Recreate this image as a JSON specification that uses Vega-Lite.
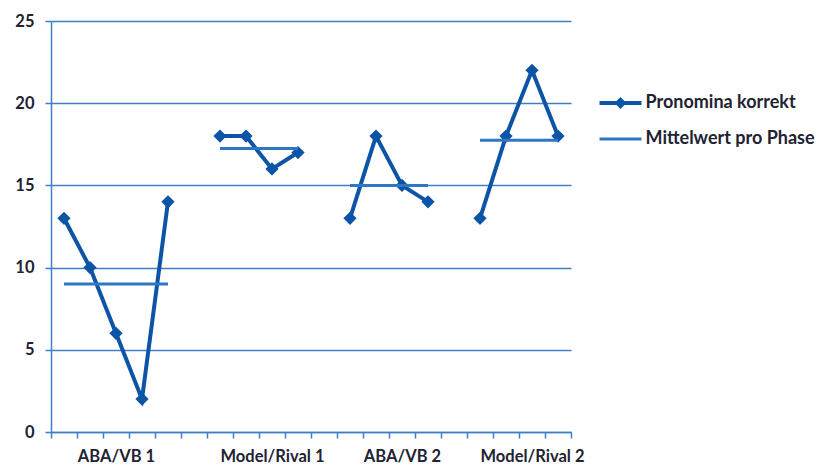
{
  "$schema": "https://vega.github.io/schema/vega-lite/v6.json",
  "autosize": {"type": "none"},
  "padding": {"left": 51, "top": 21, "right": 248, "bottom": 35},
  "width": 520,
  "height": 411,
  "background": "white",
  "config": {
    "view": {"stroke": null},
    "font": "Lato",
    "axis": {
      "labelFont": "Lato",
      "labelFontSize": 16.5,
      "labelFontWeight": "bold",
      "labelColor": "#222233",
      "domainColor": "#3f7fc6",
      "domainWidth": 1.5,
      "tickColor": "#3f7fc6",
      "tickWidth": 1.5,
      "tickSize": 6,
      "gridColor": "#3f7fc6",
      "gridWidth": 1.5,
      "title": null
    }
  },
  "datasets": {
    "pronomina": [
      {"slot": 1, "value": 13, "phase": "ABA/VB 1", "series": "Pronomina korrekt"},
      {"slot": 2, "value": 10, "phase": "ABA/VB 1", "series": "Pronomina korrekt"},
      {"slot": 3, "value": 6, "phase": "ABA/VB 1", "series": "Pronomina korrekt"},
      {"slot": 4, "value": 2, "phase": "ABA/VB 1", "series": "Pronomina korrekt"},
      {"slot": 5, "value": 14, "phase": "ABA/VB 1", "series": "Pronomina korrekt"},
      {"slot": 7, "value": 18, "phase": "Model/Rival 1", "series": "Pronomina korrekt"},
      {"slot": 8, "value": 18, "phase": "Model/Rival 1", "series": "Pronomina korrekt"},
      {"slot": 9, "value": 16, "phase": "Model/Rival 1", "series": "Pronomina korrekt"},
      {"slot": 10, "value": 17, "phase": "Model/Rival 1", "series": "Pronomina korrekt"},
      {"slot": 12, "value": 13, "phase": "ABA/VB 2", "series": "Pronomina korrekt"},
      {"slot": 13, "value": 18, "phase": "ABA/VB 2", "series": "Pronomina korrekt"},
      {"slot": 14, "value": 15, "phase": "ABA/VB 2", "series": "Pronomina korrekt"},
      {"slot": 15, "value": 14, "phase": "ABA/VB 2", "series": "Pronomina korrekt"},
      {"slot": 17, "value": 13, "phase": "Model/Rival 2", "series": "Pronomina korrekt"},
      {"slot": 18, "value": 18, "phase": "Model/Rival 2", "series": "Pronomina korrekt"},
      {"slot": 19, "value": 22, "phase": "Model/Rival 2", "series": "Pronomina korrekt"},
      {"slot": 20, "value": 18, "phase": "Model/Rival 2", "series": "Pronomina korrekt"}
    ],
    "means": [
      {"phase": "ABA/VB 1", "from": 1, "to": 5, "mean": 9, "series": "Mittelwert pro Phase"},
      {"phase": "Model/Rival 1", "from": 7, "to": 10, "mean": 17.25, "series": "Mittelwert pro Phase"},
      {"phase": "ABA/VB 2", "from": 12, "to": 15, "mean": 15, "series": "Mittelwert pro Phase"},
      {"phase": "Model/Rival 2", "from": 17, "to": 20, "mean": 17.75, "series": "Mittelwert pro Phase"}
    ]
  },
  "layer": [
    {
      "data": {"name": "pronomina"},
      "mark": {"type": "line", "strokeWidth": 4},
      "encoding": {
        "x": {
          "field": "slot",
          "type": "quantitative",
          "scale": {"domain": [0.5, 20.5], "nice": false, "zero": false},
          "axis": {
            "values": [0.5, 1.5, 2.5, 3.5, 4.5, 5.5, 6.5, 7.5, 8.5, 9.5, 10.5, 11.5, 12.5, 13.5, 14.5, 15.5, 16.5, 17.5, 18.5, 19.5, 20.5],
            "tickCount": 40,
            "labelExpr": "datum.value == 2.5 ? 'ABA/VB 1' : datum.value == 8.5 ? 'Model/Rival 1' : datum.value == 13.5 ? 'ABA/VB 2' : datum.value == 18.5 ? 'Model/Rival 2' : ''",
            "labelOffset": 13,
            "labelOverlap": false,
            "labelBound": false,
            "labelFlush": false,
            "labelPadding": 10,
            "grid": false
          }
        },
        "y": {
          "field": "value",
          "type": "quantitative",
          "scale": {"domain": [0, 25], "nice": false},
          "axis": {"values": [0, 5, 10, 15, 20, 25], "grid": true, "labelPadding": 11}
        },
        "detail": {"field": "phase"},
        "color": {
          "field": "series",
          "type": "nominal",
          "scale": {
            "domain": ["Pronomina korrekt", "Mittelwert pro Phase"],
            "range": ["#0c55a6", "#2f77c3"]
          },
          "legend": {
            "title": null,
            "orient": "none",
            "legendX": 560.5,
            "legendY": 73,
            "padding": 0,
            "symbolSize": 441,
            "symbolOffset": 0,
            "labelOffset": 16,
            "labelFont": "Lato",
            "labelFontSize": 18,
            "labelFontWeight": "bold",
            "labelColor": "#222233",
            "labelLimit": 300,
            "rowPadding": 15,
            "encode": {
              "symbols": {
                "update": {
                  "shape": {"signal": "datum.value === 'Pronomina korrekt' ? 'M-2,0H2M0,-0.3L0.3,0L0,0.3L-0.3,0Z' : 'M-2,0H2'"},
                  "fill": {"signal": "datum.value === 'Pronomina korrekt' ? '#0c55a6' : 'transparent'"},
                  "stroke": {"signal": "datum.value === 'Pronomina korrekt' ? '#0c55a6' : '#2f77c3'"},
                  "strokeWidth": {"signal": "datum.value === 'Pronomina korrekt' ? 4 : 3"},
                  "opacity": {"value": 1}
                }
              }
            }
          }
        }
      }
    },
    {
      "data": {"name": "pronomina"},
      "mark": {"type": "point", "shape": "diamond", "filled": true, "size": 175, "opacity": 1},
      "encoding": {
        "x": {"field": "slot", "type": "quantitative"},
        "y": {"field": "value", "type": "quantitative"},
        "color": {"field": "series", "type": "nominal"}
      }
    },
    {
      "data": {"name": "means"},
      "mark": {"type": "rule", "strokeWidth": 3},
      "encoding": {
        "x": {"field": "from", "type": "quantitative"},
        "x2": {"field": "to"},
        "y": {"field": "mean", "type": "quantitative"},
        "color": {"field": "series", "type": "nominal"}
      }
    }
  ]
}
